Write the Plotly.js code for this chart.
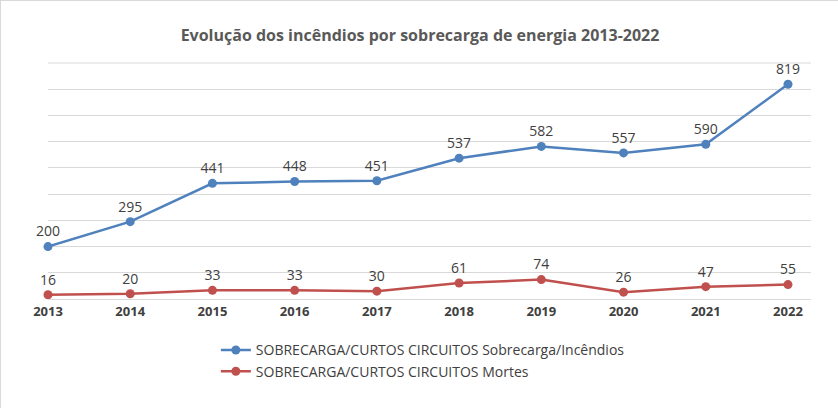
<!DOCTYPE html>
<html>
<head>
<meta charset="utf-8">
<script src="https://cdn.plot.ly/plotly-3.0.1.min.js"></script>
<style>
  body { margin: 0; }
  #chart { width: 838px; height: 408px; box-sizing: border-box; border: 1px solid #d9d9d9; }
</style>
</head>
<body>
<div id="chart"></div>
<script>
const years = ['2013', '2014', '2015', '2016', '2017', '2018', '2019', '2020', '2021', '2022']
const incendios = [200, 295, 441, 448, 451, 537, 582, 557, 590, 819]
const mortes = [16, 20, 33, 33, 30, 61, 74, 26, 47, 55]

const line = (y, name, color) => ({
    x: years, y, name,
    type: 'scatter',
    mode: 'lines+markers+text',
    text: y.map(String),
    textposition: 'top center',
    textfont: {size: 14, color: '#404040'},
    line: {color, width: 2.5},
    marker: {color, size: 9},
    cliponaxis: false
})

const data = [
    line(incendios, 'SOBRECARGA/CURTOS CIRCUITOS Sobrecarga/Incêndios', '#4f81bd'),
    line(mortes, 'SOBRECARGA/CURTOS CIRCUITOS Mortes', '#c0504d')
]

const layout = {
    width: 838, height: 408,
    margin: {l: 47, r: 28, t: 62, b: 110},
    font: {family: 'Open Sans, Liberation Sans, sans-serif', color: '#404040'},
    title: {
        text: '<b>Evolução dos incêndios por sobrecarga de energia 2013-2022</b>',
        font: {size: 16, color: '#595959'},
        x: 0.5, y: 0.93, xanchor: 'center'
    },
    xaxis: {
        type: 'category', range: [0, 9.28],
        showgrid: false, showline: true, linecolor: '#d9d9d9',
        tickfont: {size: 13, color: '#404040', weight: 'bold'},
        ticks: ''
    },
    yaxis: {
        range: [0, 900], dtick: 100,
        showticklabels: false, gridcolor: '#d9d9d9', zeroline: false
    },
    shapes: [{
        type: 'line', xref: 'paper', yref: 'paper', x0: 0, x1: 1, y0: 1, y1: 1,
        line: {color: '#d9d9d9', width: 1}, layer: 'below'
    }],
    legend: {
        orientation: 'v', x: 0.22, y: -0.15, xanchor: 'left', yanchor: 'top',
        font: {size: 14, color: '#404040'}, tracegroupgap: 8
    },
    showlegend: true
}

Plotly.newPlot('chart', data, layout, {displayModeBar: false})
</script>
</body>
</html>
